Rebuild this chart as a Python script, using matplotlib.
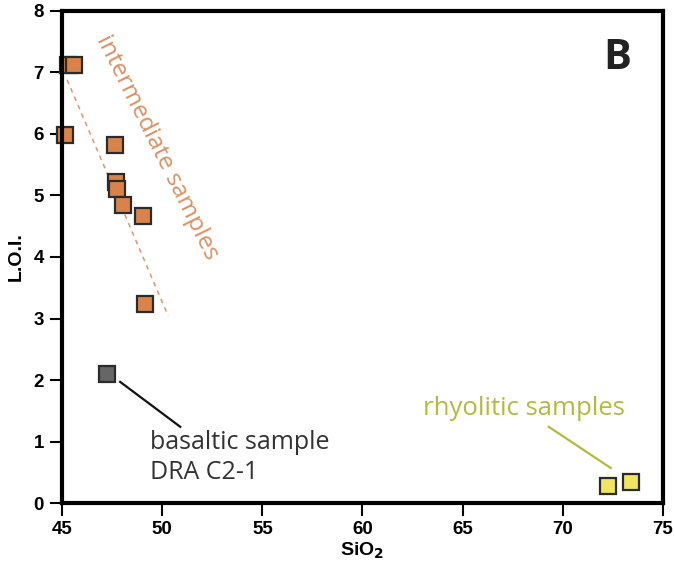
import matplotlib
matplotlib.use("Agg")
import matplotlib.pyplot as plt

# intermediate samples
inter_sio2 = [45.3, 45.6, 45.15, 47.65, 47.7, 47.75, 48.05, 49.05, 49.15]
inter_loi = [7.12, 7.12, 5.98, 5.82, 5.22, 5.10, 4.85, 4.67, 3.24]
# basaltic sample
basalt_sio2 = [47.25]
basalt_loi = [2.10]
# rhyolitic samples
rhyo_sio2 = [72.25, 73.4]
rhyo_loi = [0.28, 0.34]
# dashed trend for intermediate samples
trend_x = [45.25, 50.3]
trend_y = [6.88, 3.04]

orange = "#d9834a"
olive = "#b3bb3c"

fig = plt.figure(figsize=(6.75, 5.73), dpi=100)
ax = fig.add_axes([0.092, 0.122, 0.890, 0.859])

ax.plot(trend_x, trend_y, ls=(0, (3, 3)), color="#e0966a", lw=1.1)

ms = 12
ax.plot(inter_sio2, inter_loi, "s", ms=ms, mfc=orange, mec="#2b2b2b", mew=1.6, clip_on=False)
ax.plot(basalt_sio2, basalt_loi, "s", ms=ms, mfc="#666666", mec="#2b2b2b", mew=1.6)
ax.plot(rhyo_sio2, rhyo_loi, "s", ms=ms, mfc="#f0e462", mec="#2b2b2b", mew=1.6)

# leader lines
ax.plot([47.9, 50.9], [1.97, 1.24], color="#111111", lw=1.6)
ax.plot([69.3, 72.4], [1.24, 0.57], color=olive, lw=1.6)

ax.text(49.75, 5.78, "intermediate samples", rotation=-63.5, color="#db9162",
        fontsize=17.6, family="Open Sans", ha="center", va="center",
        rotation_mode="anchor")
ax.text(49.4, 0.74, "basaltic sample\nDRA C2-1", color="#333333", fontsize=18,
        family="Open Sans", ha="left", va="center", linespacing=1.3)
ax.text(68.07, 1.53, "rhyolitic samples", color=olive, fontsize=18.5,
        family="Open Sans", ha="center", va="center")
ax.text(72.7, 7.22, "B", fontsize=30, fontweight="bold", family="Open Sans",
        color="#222222", ha="center", va="center")

ax.set_xlim(45, 75)
ax.set_ylim(0, 8)
ax.set_xticks(range(45, 76, 5))
ax.set_yticks(range(0, 9))
for s in ax.spines.values():
    s.set_linewidth(3)
ax.tick_params(direction="out", length=9, width=1.5, pad=4, labelsize=13.5)
for lab in ax.get_xticklabels() + ax.get_yticklabels():
    lab.set_fontweight("bold")
    lab.set_family("Liberation Sans")

ax.set_xlabel("SiO$_\\mathbf{2}$", fontsize=14, fontweight="bold",
              family="Liberation Sans", labelpad=2)
ax.set_ylabel("L.O.I.", fontsize=14, fontweight="bold",
              family="Liberation Sans", labelpad=6)

fig.savefig("out.png", dpi=100)
